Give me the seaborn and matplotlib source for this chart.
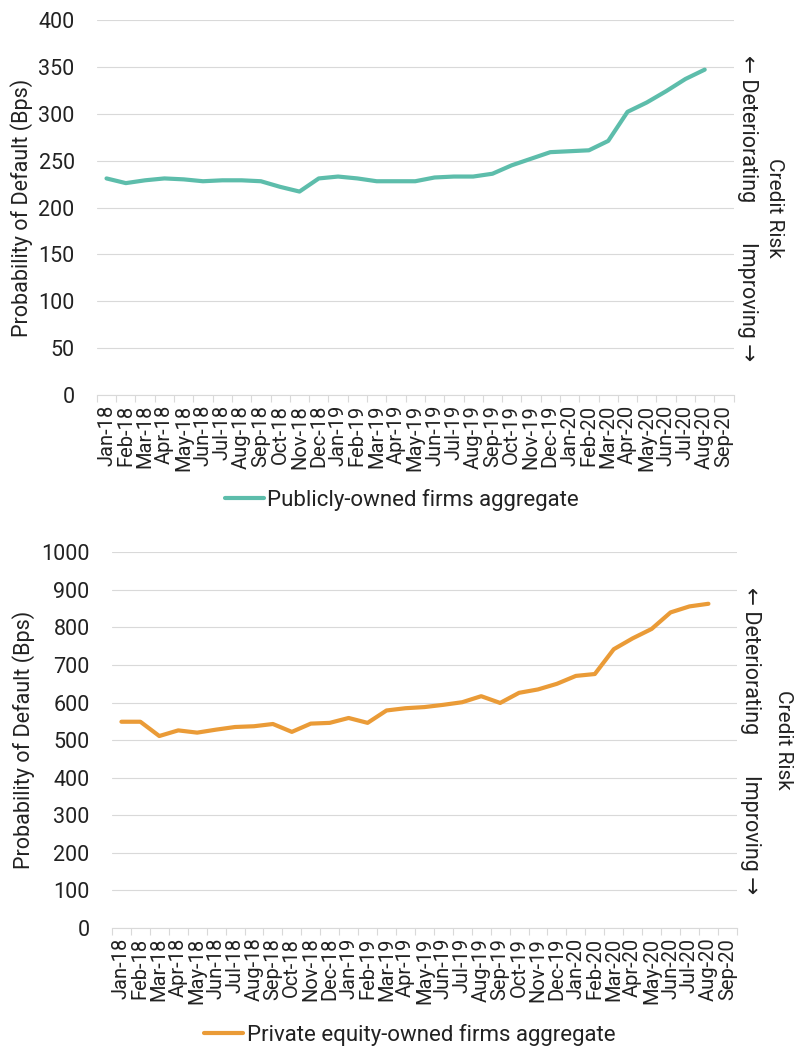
#%%
import numpy as np
import pandas as pd
import matplotlib
matplotlib.use('Agg')
import matplotlib.pyplot as plt
import seaborn as sns

#%%
# Month axis (Sep-20 is on the axis but has no data point)
months = ['Jan-18', 'Feb-18', 'Mar-18', 'Apr-18', 'May-18', 'Jun-18', 'Jul-18', 'Aug-18',
          'Sep-18', 'Oct-18', 'Nov-18', 'Dec-18', 'Jan-19', 'Feb-19', 'Mar-19', 'Apr-19',
          'May-19', 'Jun-19', 'Jul-19', 'Aug-19', 'Sep-19', 'Oct-19', 'Nov-19', 'Dec-19',
          'Jan-20', 'Feb-20', 'Mar-20', 'Apr-20', 'May-20', 'Jun-20', 'Jul-20', 'Aug-20',
          'Sep-20']

# Probability of default (Bps)
public_pd = [231, 226, 229, 231, 230, 228, 229, 229, 228, 222, 217, 231, 233, 231, 228, 228,
             228, 232, 233, 233, 236, 245, 252, 259, 260, 261, 271, 302, 312, 324, 337, 347]
pe_pd = [549, 549, 511, 526, 520, 528, 535, 537, 543, 522, 544, 546, 559, 546, 579, 585,
         588, 594, 601, 617, 599, 626, 635, 650, 671, 676, 742, 771, 796, 840, 856, 863]

public_label = 'Publicly-owned firms aggregate'
pe_label = 'Private equity-owned firms aggregate'

#%%
sns.set_theme(style='white')
plt.rcParams['font.family'] = ['Roboto', 'DejaVu Sans']

teal = '#5dbdab'
orange = '#ea9b37'
grid_col = '#d9d9d9'
text_col = '#222222'

fig = plt.figure(figsize=(7.94, 10.48), dpi=100)
ax1 = fig.add_axes([0.122, 0.623, 0.802, 0.358])
ax2 = fig.add_axes([0.141, 0.1145, 0.787, 0.3585])


def style_axis(ax, ylim, step, cr_x):
    ax.set_xlim(-0.5, len(months) - 0.5)
    ax.set_ylim(*ylim)
    ax.set_yticks(np.arange(ylim[0], ylim[1] + 1, step))
    ax.grid(axis='y', color=grid_col, linewidth=0.8)
    ax.set_axisbelow(True)
    ax.set_xticks(range(len(months)))
    ax.set_xticklabels(months, rotation=90, fontsize=14.5, color=text_col)
    ax.set_xticks(np.arange(-0.5, len(months)), minor=True)
    ax.tick_params(axis='x', which='major', length=0, pad=7)
    ax.tick_params(axis='x', which='minor', length=5, width=0.8, color=grid_col, bottom=True)
    ax.tick_params(axis='y', length=0, pad=16, labelsize=15.5, labelcolor=text_col)
    for s in ['top', 'right', 'left']:
        ax.spines[s].set_visible(False)
    ax.spines['bottom'].set_color(grid_col)
    ax.spines['bottom'].set_linewidth(0.8)
    ax.set_xlabel('')
    ax.set_ylabel('Probability of Default (Bps)', fontsize=15.5, color=text_col)
    # credit risk annotation on the right
    ax.text(1.022, 0.907, '\u2190 Deteriorating', transform=ax.transAxes, rotation=270,
            ha='center', va='top', fontsize=15.5, color=text_col)
    ax.text(1.022, 0.09, 'Improving \u2192', transform=ax.transAxes, rotation=270,
            ha='center', va='bottom', fontsize=15.5, color=text_col)
    ax.text(cr_x, 0.5, 'Credit Risk', transform=ax.transAxes, rotation=270,
            ha='center', va='center', fontsize=15, color=text_col)


df_pub = pd.DataFrame({'pos': np.arange(len(public_pd)), 'pd': public_pd})
df_pe = pd.DataFrame({'pos': np.arange(len(pe_pd)), 'pd': pe_pd})

sns.lineplot(data=df_pub, x='pos', y='pd', ax=ax1, color=teal, linewidth=3, label=public_label)
sns.lineplot(data=df_pe, x='pos', y='pd', ax=ax2, color=orange, linewidth=3, label=pe_label)

style_axis(ax1, (0, 400), 50, 1.064)
style_axis(ax2, (0, 1000), 100, 1.074)
ax1.yaxis.set_label_coords(-0.1, 0.5)
ax2.yaxis.set_label_coords(-0.123, 0.5)

for ax, y, x in [(ax1, 0.523, 0.506), (ax2, 0.0125, 0.516)]:
    ax.legend(loc='center', bbox_to_anchor=(x, y), bbox_transform=fig.transFigure,
              frameon=False, fontsize=16, handlelength=1.75, handletextpad=0.15,
              labelcolor=text_col)

fig.savefig('out.png', dpi=100)
